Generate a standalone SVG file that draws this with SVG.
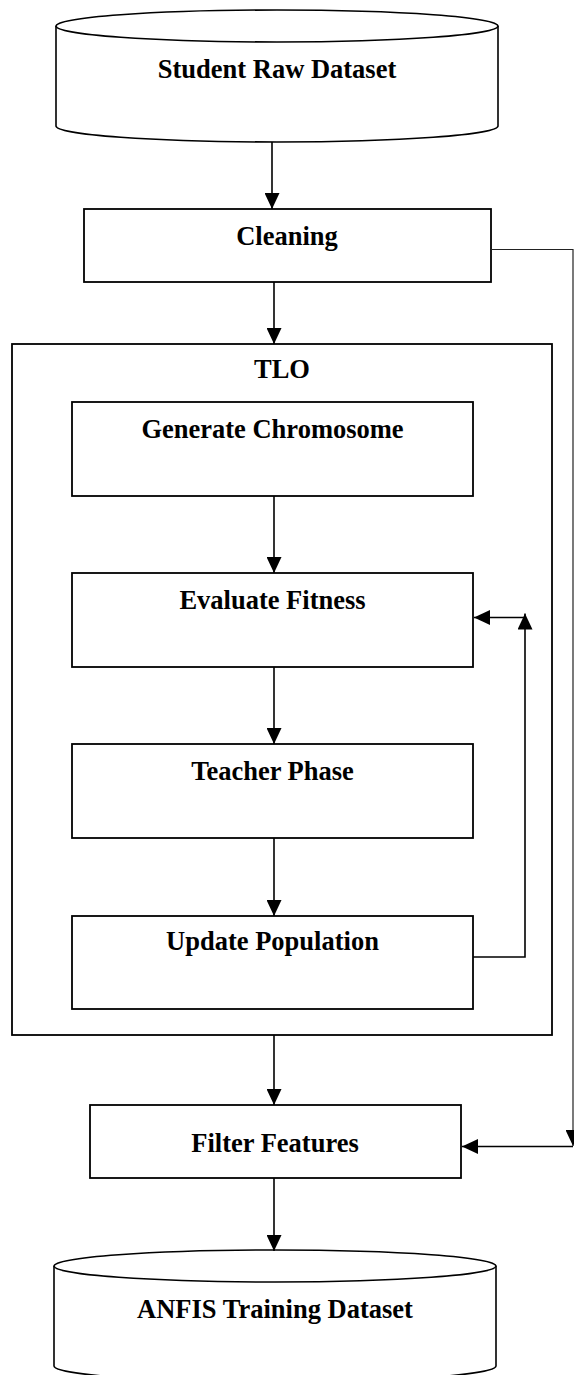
<svg xmlns="http://www.w3.org/2000/svg" width="574" height="1375" viewBox="0 0 574 1375">
<style>
.box{fill:#fff;stroke:#000;stroke-width:1.8}
.cyl{fill:#fff;stroke:#000;stroke-width:1.6}
.lbl{font-family:"Liberation Serif","Times New Roman",serif;font-weight:bold;font-size:26.5px;text-anchor:middle;fill:#000}
.con{fill:none;stroke:#000;stroke-width:1.6}
.thin{fill:none;stroke:#222;stroke-width:1.2}
</style>
<defs>
<marker id="ah" markerUnits="userSpaceOnUse" markerWidth="16" markerHeight="15" refX="16" refY="7.5" orient="auto">
<path d="M0,0 L16,7.5 L0,15 z" fill="#000"/>
</marker>
</defs>
<rect width="574" height="1375" fill="#fff"/>
<g id="student-raw-dataset">
<path class="cyl" d="M56,26 V126 A221,16 0 0 0 498,126 V26"/>
<ellipse class="cyl" cx="277" cy="26" rx="221" ry="16"/>
<text class="lbl" x="277" y="78">Student Raw Dataset</text>
</g>
<g id="cleaning">
<rect class="box" x="84" y="209" width="407" height="73"/>
<text class="lbl" x="287" y="245">Cleaning</text>
</g>
<g id="tlo">
<rect class="box" x="12" y="344" width="540" height="691"/>
<text class="lbl" x="282" y="378">TLO</text>
</g>
<g id="generate-chromosome">
<rect class="box" x="72" y="402" width="401" height="94"/>
<text class="lbl" x="272.5" y="438">Generate Chromosome</text>
</g>
<g id="evaluate-fitness">
<rect class="box" x="72" y="573" width="401" height="94"/>
<text class="lbl" x="272.5" y="609">Evaluate Fitness</text>
</g>
<g id="teacher-phase">
<rect class="box" x="72" y="744" width="401" height="94"/>
<text class="lbl" x="272.5" y="780">Teacher Phase</text>
</g>
<g id="update-population">
<rect class="box" x="72" y="916" width="401" height="93"/>
<text class="lbl" x="272.5" y="950">Update Population</text>
</g>
<g id="filter-features">
<rect class="box" x="90" y="1105" width="371" height="73"/>
<text class="lbl" x="275" y="1152">Filter Features</text>
</g>
<g id="anfis-training-dataset">
<path class="cyl" d="M54,1266 V1366 A221,16 0 0 0 496,1366 V1266"/>
<ellipse class="cyl" cx="275" cy="1266" rx="221" ry="16"/>
<text class="lbl" x="275" y="1318">ANFIS Training Dataset</text>
</g>
<g id="connectors">
<line class="con" x1="272" y1="142" x2="272" y2="209" marker-end="url(#ah)"/>
<line class="con" x1="274" y1="282" x2="274" y2="344" marker-end="url(#ah)"/>
<line class="con" x1="274" y1="496" x2="274" y2="573" marker-end="url(#ah)"/>
<line class="con" x1="274" y1="667" x2="274" y2="744" marker-end="url(#ah)"/>
<line class="con" x1="274" y1="838" x2="274" y2="916" marker-end="url(#ah)"/>
<line class="con" x1="274" y1="1035" x2="274" y2="1105" marker-end="url(#ah)"/>
<line class="con" x1="274" y1="1178" x2="274" y2="1251" marker-end="url(#ah)"/>
<path class="con" d="M473,957 H525 V613.5" marker-end="url(#ah)"/>
<line class="con" x1="525" y1="617.5" x2="474" y2="617.5" marker-end="url(#ah)"/>
<path class="thin" d="M491,249.5 H573 V1146" marker-end="url(#ah)"/>
<line class="con" x1="573" y1="1146.5" x2="462" y2="1146.5" marker-end="url(#ah)"/>
</g>
</svg>
